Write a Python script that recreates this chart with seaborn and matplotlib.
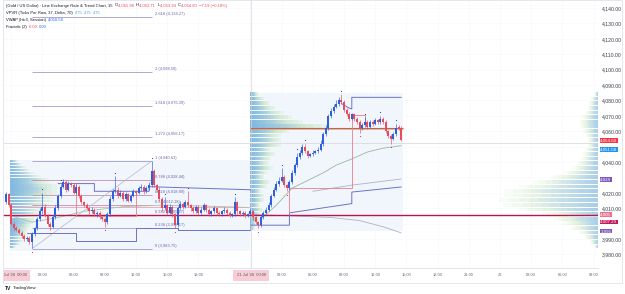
import numpy as np
import seaborn as sns
import matplotlib.pyplot as plt
import matplotlib.transforms as mtransforms
from matplotlib.patches import Rectangle

# ---------------- data ----------------
first_open = 4014
closes = [4019, 4012, 4000, 3997, 3996, 3994, 3992, 3990, 3991, 3988,
          3993, 3997, 4003, 4008, 4011, 4005, 4000, 3998, 4004, 4010,
          4018, 4024, 4027, 4022, 4026, 4025, 4020, 4024, 4018, 4014,
          4012, 4010, 4008, 4009, 4006, 4007, 4004, 4003, 4001, 4006,
          4016, 4021, 4022, 4018, 4020, 4016, 4019, 4015, 4018, 4021,
          4020, 4023, 4024, 4021, 4023, 4025, 4034, 4025, 4022, 4016,
          4010, 4012, 4007, 4011, 4006, 3999, 4010, 4013, 4011, 4014,
          4012, 4010, 4008, 4011, 4007, 4009, 4012, 4009, 4006, 4008,
          4010, 4007, 4006, 4008, 4009, 4007, 4005, 4006, 4014, 4008,
          4006, 4007, 4005, 4006, 4008, 4004, 4001, 3999, 4004, 4007,
          4009, 4012, 4018, 4022, 4026, 4028, 4030, 4025, 4023, 4027,
          4033, 4038, 4043, 4046, 4050, 4047, 4044, 4045, 4046, 4047,
          4048, 4052, 4058, 4062, 4070, 4073, 4076, 4078, 4080, 4079,
          4074, 4071, 4068, 4071, 4068, 4066, 4062, 4064, 4066, 4063,
          4066, 4065, 4067, 4066, 4068, 4066, 4060, 4057, 4055, 4058,
          4062, 4061.98, 4054.60]
hi_wick = [1.5, 1, 1.5, 1, 1.5, 1, 1, 1.5, 1, 1,
           1.5, 1, 1.5, 2, 9, 1.5, 1, 1, 1.5, 2,
           1.5, 2, 2, 1.5, 1.5, 1, 1.5, 2, 1, 1.5,
           1, 1.5, 1, 1.5, 1, 1, 1.5, 1, 1, 1.5,
           2, 1.5, 9, 1.5, 2, 1, 1.5, 1, 1.5, 1.5,
           1, 1.5, 1.5, 1, 1.5, 2, 6.6, 1.5, 1, 1.5,
           1, 5, 1, 1.5, 1, 1, 1.5, 1.5, 1, 1.5,
           7, 1, 1.5, 1, 1, 1.5, 1.5, 1, 1, 1,
           1.5, 1, 1, 1, 1.5, 1, 1, 1, 3, 1,
           1, 1.5, 1, 1, 1.5, 1, 1, 1, 1.5, 1.5,
           1.5, 2, 1.5, 2, 1.5, 2, 6, 1.5, 1, 1.5,
           2, 1.5, 3, 1.5, 1.5, 2, 1, 1, 1.5, 1,
           1.5, 2, 1.5, 2, 1.5, 2, 1.5, 2, 2, 4,
           1.5, 1, 1.5, 1, 1, 1.5, 1, 1.5, 3, 1,
           1.5, 1, 1.5, 1, 2, 1, 1, 1, 1, 1.5,
           3, 1.73, 1.73]
lo_wick = [1, 1.5, 1, 1.5, 1, 1, 1.5, 1, 1.5, 1.5,
           4, 1, 1, 1, 1.5, 1, 1.5, 2, 1, 1,
           1, 1.5, 1, 1.5, 1, 1.5, 1, 1, 1.5, 1,
           1, 1, 1.5, 1, 1, 1.5, 1, 1, 3, 1,
           1, 1.5, 1, 1.5, 1, 1, 1.5, 1, 1, 1,
           1.5, 1, 1, 1.5, 1, 1, 1.5, 1, 1.5, 1,
           1.5, 1, 1.5, 1, 1.5, 2, 1, 1, 1.5, 1,
           1, 1.5, 1, 1, 1.5, 1, 1, 1.5, 1, 1,
           1, 1.5, 1, 1, 1, 1.5, 1, 1, 1, 1.5,
           1, 1, 1.5, 1, 1, 1.5, 1, 2, 1, 1,
           1, 1, 1.5, 1, 1, 1.5, 1, 1.5, 2, 1,
           1, 1.5, 1, 1, 1.5, 1, 1.5, 1, 1, 1,
           1, 1, 1.5, 1, 1, 1.5, 1, 1, 1.5, 1,
           1.5, 1, 1.5, 1, 1.5, 1, 3, 1, 1, 1.5,
           1, 1.5, 1, 1, 1, 1.5, 1, 1.5, 3, 1,
           1, 1, 0.66]

frac_up_idx = [14, 21, 42, 56, 61, 70, 88, 106, 112, 115, 129, 138, 144, 150]
frac_dn_idx = [10, 17, 38, 65, 97, 108, 136, 148]

time_ticks = [2, 14, 26, 38, 50, 62, 74, 94, 106, 118, 130, 142, 154, 166, 178, 190, 202, 214, 226]
time_labels = ["00:00", "03:00", "06:00", "09:00", "12:00", "15:00", "18:00", "00:00", "03:00",
               "06:00", "09:00", "12:00", "15:00", "18:00", "21:00", "22", "03:00", "06:00", "09:00"]
day_ticks = [2, 94]
day_names = ["20 Jul '26", "21 Jul '26"]

price_ticks = [3980, 3990, 4000, 4010, 4020, 4030, 4040, 4050, 4060, 4070,
               4080, 4090, 4100, 4110, 4120, 4130, 4140]
# scale labels that sit under the price tags
hidden_ticks = [4000, 4030, 4050]

# trend-based fib extension (anchored low -> high)
fib_start, fib_end = 10, 56
fib_levels = ["0", "0.236", "0.382", "0.5", "0.618", "0.786", "1", "1.272", "1.618", "2", "2.618"]
fib_prices = [3983.75, 3997.17, 4005.47, 4012.18, 4018.89, 4028.44, 4040.61, 4056.17, 4076.39, 4098.50, 4134.27]

# session volume profiles (row bottoms, up / down volume)
d1_rows = [3984, 3986, 3988, 3990, 3992, 3994, 3996, 3998, 4000, 4002, 4004, 4006, 4008, 4010, 4012,
           4014, 4016, 4018, 4020, 4022, 4024, 4026, 4028, 4030, 4032, 4034, 4036, 4038, 4040]
d1_blue = [1, 2, 2.5, 2, 3, 3.5, 3, 4, 5, 4, 5, 6, 5.5, 7, 6, 8, 9, 7, 9, 10, 8, 7, 8, 6, 5, 4, 3, 2.5, 1.5]
d1_green = [0.5, 0.5, 1, 1.5, 1, 1, 2, 1.5, 1, 2.5, 2, 1.5, 3, 2, 4, 3, 2, 5, 3, 2, 4, 3, 2, 2, 1.5, 1, 1, 0.5, 0.5]
d2_rows = [3996, 3999, 4002, 4005, 4008, 4011, 4014, 4017, 4020, 4023, 4026, 4029, 4032, 4035, 4038,
           4041, 4044, 4047, 4050, 4053, 4056, 4059, 4062, 4065, 4068, 4071, 4074, 4077, 4080, 4083]
d2_blue = [1, 1.5, 2, 2.5, 3, 2.5, 3, 3.5, 3, 4, 4.5, 3.5, 4, 5, 4.5, 5, 6, 5.5, 7, 8, 7, 9, 18, 12, 10, 8, 6, 4.5, 3, 2]
d2_green = [0.5, 0.5, 1, 1, 1.5, 1, 2, 1.5, 1, 2, 2.5, 1.5, 2, 3, 2, 2.5, 3, 2, 4, 3, 4, 5, 10, 7, 5, 4, 3, 2.5, 2, 1]
# visible range profile on the right edge
vr_rows = [3984, 3987, 3990, 3993, 3996, 3999, 4002, 4005, 4008, 4011, 4014, 4017, 4020, 4023, 4026, 4029, 4032,
           4035, 4038, 4041, 4044, 4047, 4050, 4053, 4056, 4059, 4062, 4065, 4068, 4071, 4074, 4077, 4080, 4083]
vr_blue = [2, 4, 7, 10, 15, 18, 24, 30, 44, 55, 60, 52, 58, 46, 40, 26, 20,
           14, 12, 10, 9, 7, 6, 6, 7, 8, 10, 11, 9, 7, 6, 5, 4, 2]
vr_green = [1, 3, 5, 7, 9, 12, 15, 20, 26, 30, 28, 32, 26, 24, 18, 14, 10,
            8, 6, 5, 4, 4, 3, 3, 4, 5, 6, 6, 5, 4, 3, 3, 2, 1]

# session vwap and bands
vwap1_idx = [2, 10, 20, 30, 45, 60, 75, 93]
vwap1_val = [4005, 4001, 4004, 4008, 4011, 4012, 4011.5, 4010.5]
vwap2_idx = [98, 104, 110, 116, 122, 127, 133, 139, 145, 152]
vwap2_val = [4003, 4012, 4023, 4028, 4033, 4038, 4042, 4046.5, 4049, 4050.6]
band2_idx = [94, 110, 125, 136, 145, 152]
band2_val = [4006, 4005, 4004, 4002, 3998, 3994]
band2u_idx = [118, 133, 152]
band2u_val = [4021, 4025, 4029]
step_lines = {
    "d1_low": ([8, 27, 27, 50, 50, 66, 66, 94], [3994, 3994, 3989, 3989, 3997, 3997, 3996, 3996]),
    "d1_up": ([20, 34, 34, 55, 55, 94], [4026, 4026, 4021, 4021, 4024, 4022]),
    "d2_low": ([94, 109, 109, 133, 133, 152], [3999, 3999, 4007, 4013, 4020.5, 4023.8]),
    "d2_up": ([129, 132, 133, 133, 152], [4078, 4075, 4074.5, 4082, 4082]),
}
red_steps = {
    "d1": ([27, 27, 50, 50], [4026, 4005, 4005, 4020]),
    "d2": ([109, 109, 133, 133, 138, 138], [4007, 4023, 4023, 4070.5, 4070.5, 4066]),
}
naked_poc = 4005.6
d1_poc2 = 4010.8
d2_poc = 4062
cross_idx, cross_price = 94.2, 4052.3

tag_texts = ["4,054.60", "4,051.58", "4,028", "4,005", "4,007.29", "3,995"]
tag_values = [4054.60, 4051.58, 4028.5, 4005.6, 4007.29, 3995.2]
tag_colors = ["#f23645", "#2196f3", "#7e57c2", "#ef7090", "#c2185b", "#7e57c2"]

BLUE = "#2f5fe0"
RED = "#ea4a5c"
PROF_BLUE = "#4f9fd9"
PROF_GREEN = "#92cf7c"
FIB = "#a39bcc"
TXT = "#131722"
GRAY = "#6a6d78"

# ---------------- figure ----------------
sns.set_theme(style="white")
plt.rcParams['font.family'] = ['Liberation Sans', 'DejaVu Sans']

W, H = 625, 294
fig = plt.figure(figsize=(W / 100, H / 100), dpi=100)
fig.patch.set_facecolor("white")
ax = fig.add_axes([3 / W, (H - 268) / H, 595 / W, 268 / H])
ax.set_facecolor("white")
ax.set_xlim(-1.154, 227.69)
ax.set_ylim(3971.2, 4145.2)

ax.set_xticks(time_ticks)
ax.set_xticklabels([])
ax.yaxis.tick_right()
ax.set_yticks(price_ticks)
ax.set_yticklabels(["" if p in hidden_ticks else f"{p:,.2f}" for p in price_ticks])
ax.tick_params(axis="y", length=0, pad=2.5, labelsize=3.7, labelcolor="#3c3f48")
ax.tick_params(axis="x", length=0)
ax.grid(True, color="#f6f7f9", lw=0.4)
for s in ax.spines.values():
    s.set_visible(False)
ax.spines["bottom"].set_visible(True)
ax.spines["bottom"].set_color("#dfe1e8")
ax.spines["bottom"].set_linewidth(0.6)

# session boxes
ax.add_patch(Rectangle((1.5, 3982), 94 - 1.5, 4041.5 - 3982, fc="#e6f0fa", ec="none", alpha=0.6, zorder=0.5))
ax.add_patch(Rectangle((94, 3995.5), 152.5 - 94, 4085 - 3995.5, fc="#e6f0fa", ec="none", alpha=0.6, zorder=0.5))


def profile(rows, blue, green, row_h, anchor, max_w, direction, steps=10, alpha=0.08):
    b = np.array(blue, float)
    g = np.array(green, float)
    k = max_w / (b + g).max()
    for i in range(steps):
        f = (i + 1) / steps
        wb, wg = b * k * f, g * k * f
        left_b = anchor if direction > 0 else anchor - wb
        left_g = anchor + wb if direction > 0 else anchor - wb - wg
        ax.barh(rows, wb, left=left_b, height=row_h * 0.8, align="edge", color=PROF_BLUE,
                alpha=alpha, lw=0, zorder=1)
        ax.barh(rows, wg, left=left_g, height=row_h * 0.8, align="edge", color=PROF_GREEN,
                alpha=alpha, lw=0, zorder=1)


profile(d1_rows, d1_blue, d1_green, 2, 1.5, 18, 1, alpha=0.1)
profile(d2_rows, d2_blue, d2_green, 3, 94, 30, 1, alpha=0.1)
profile(vr_rows, vr_blue, vr_green, 3, 227.69, 38, -1, alpha=0.06)

# crosshair
ax.axvline(cross_idx, color="#d3d5db", lw=0.5, zorder=1)
ax.axhline(cross_price, color="#d3d5db", lw=0.5, zorder=1)

# poc lines
ax.axhline(naked_poc, color="#b8164a", lw=1.0, zorder=3)
ax.hlines(d1_poc2, 1.5, 94, color="#f2a0b0", lw=0.6, zorder=2)
ax.hlines(d2_poc, 94, 152.5, color="#e0505f", lw=0.8, zorder=3)
ax.hlines(d2_poc - 0.8, 94, 152.5, color="#9ccc65", lw=0.5, zorder=2)

# fib extension
for lvl, p in zip(fib_levels, fib_prices):
    c = "#c28fb0" if lvl in ("0.786", "0.618", "0.5", "0.382") else FIB
    ax.hlines(p, fib_start, fib_end, color=c, lw=0.6, zorder=2)
    ax.text(fib_end + 1.3, p + 1.8, f"{lvl} ({p:,.2f})", fontsize=2.9, color="#6f63a8",
            va="center", ha="left", zorder=7)
sns.lineplot(x=[fib_start, fib_end], y=[fib_prices[0], fib_prices[6]], ax=ax,
             color="#b8b4d4", lw=0.5, sort=False, estimator=None, zorder=2)

# vwap and bands
sns.lineplot(x=vwap1_idx, y=vwap1_val, ax=ax, color="#a9c4a9", lw=0.6, sort=False, estimator=None, zorder=2)
sns.lineplot(x=vwap2_idx, y=vwap2_val, ax=ax, color="#98b89a", lw=0.6, sort=False, estimator=None, zorder=2)
sns.lineplot(x=band2_idx, y=band2_val, ax=ax, color="#b0b0c6", lw=0.6, sort=False, estimator=None, zorder=2)
sns.lineplot(x=band2u_idx, y=band2u_val, ax=ax, color="#b0b0c6", lw=0.6, sort=False, estimator=None, zorder=2)
for xs, ys in step_lines.values():
    ax.plot(xs, ys, color="#6c72c8", lw=0.7, zorder=3)
for xs, ys in red_steps.values():
    ax.plot(xs, ys, color="#ec7c8a", lw=0.6, zorder=3)

# candles
o = np.array([first_open] + closes[:-1], float)
c = np.array(closes, float)
x = np.arange(len(c))
hi = np.maximum(o, c) + np.array(hi_wick)
lo = np.minimum(o, c) - np.array(lo_wick)
cols = np.where(c >= o, BLUE, RED)
ax.vlines(x, lo, hi, colors=cols, lw=0.45, zorder=5)
ax.bar(x, np.clip(np.abs(c - o), 0.5, None), bottom=np.minimum(o, c), width=0.78,
       color=cols, lw=0, zorder=6)
ax.scatter(frac_up_idx, hi[frac_up_idx] + 2.2, s=0.7, color="#37408f", lw=0, zorder=7)
ax.scatter(frac_dn_idx, lo[frac_dn_idx] - 2.2, s=0.7, color="#e0344c", lw=0, zorder=7)

# price tags on the scale
tr = mtransforms.blended_transform_factory(ax.transAxes, ax.transData)
nudges = [-0.6, -3.2, 0, 0.6, -6.2, 0]
for t, v, col, d in zip(tag_texts, tag_values, tag_colors, nudges):
    ax.text(1.004, v + d, t, transform=tr, fontsize=3.2, color="white", va="center", ha="left",
            clip_on=False, zorder=10,
            bbox=dict(boxstyle="square,pad=0.1", fc=col, ec="none"))

# time scale
axx = fig.add_axes([3 / W, (H - 283) / H, 595 / W, 15 / H])
axx.set_xlim(ax.get_xlim())
axx.set_ylim(0, 1)
axx.axis("off")
for t, lab in zip(time_ticks, time_labels):
    if t in day_ticks:
        continue
    axx.text(t, 0.5, lab, fontsize=2.9, color=GRAY, ha="center", va="center", clip_on=True)
for t, name in zip(day_ticks, day_names):
    axx.text(t + 0.3, 0.5, f"{name}  00:00", fontsize=2.9, color="#50535e", ha="center", va="center",
             clip_on=True, bbox=dict(boxstyle="square,pad=0.9", fc="#f8cdd6", ec="none"))

# legend header
renderer = fig.canvas.get_renderer()


def seq_text(xpx, ypx, parts, size=3.0):
    xf = xpx / W
    for s, col in parts:
        t = fig.text(xf, 1 - ypx / H, s, fontsize=size, color=col, ha="left", va="center")
        xf += t.get_window_extent(renderer=renderer).width / fig.bbox.width


seq_text(6, 5.5, [("(Gold / US Dollar) \u00b7 Line Exchange Rate & Trend Chart, 15  ", TXT),
                  ("O", TXT), ("4,061.98  ", RED), ("H", TXT), ("4,063.71  ", RED),
                  ("L", TXT), ("4,053.94  ", RED), ("C", TXT), ("4,054.60  ", RED),
                  ("\u22127.19 (\u22120.18%)", RED)])
seq_text(6, 13, [("VPVR (Ticks Per Row, 37, Delta, 70)  ", TXT), ("475  475  475", "#4aa3e8")])
seq_text(6, 20, [("VWAP (hlc3, Session)  ", TXT), ("4,050.58", "#2962ff")])
seq_text(6, 27, [("Fractals (2)  ", TXT), ("0.00  ", RED), ("0.00", "#2962ff")])

# chart frame and logo
fig.add_artist(Rectangle((3 / W, (H - 283) / H), 619 / W, 283 / H, transform=fig.transFigure,
                         fill=False, ec="#e0e3eb", lw=0.6))
fig.text(5 / W, 1 - 288 / H, "TV", fontsize=3.6, fontweight="bold", color=TXT, va="center")
fig.text(13 / W, 1 - 288 / H, "TradingView", fontsize=3.2, color=TXT, va="center")

fig.savefig("out.png", dpi=100, facecolor="white")
